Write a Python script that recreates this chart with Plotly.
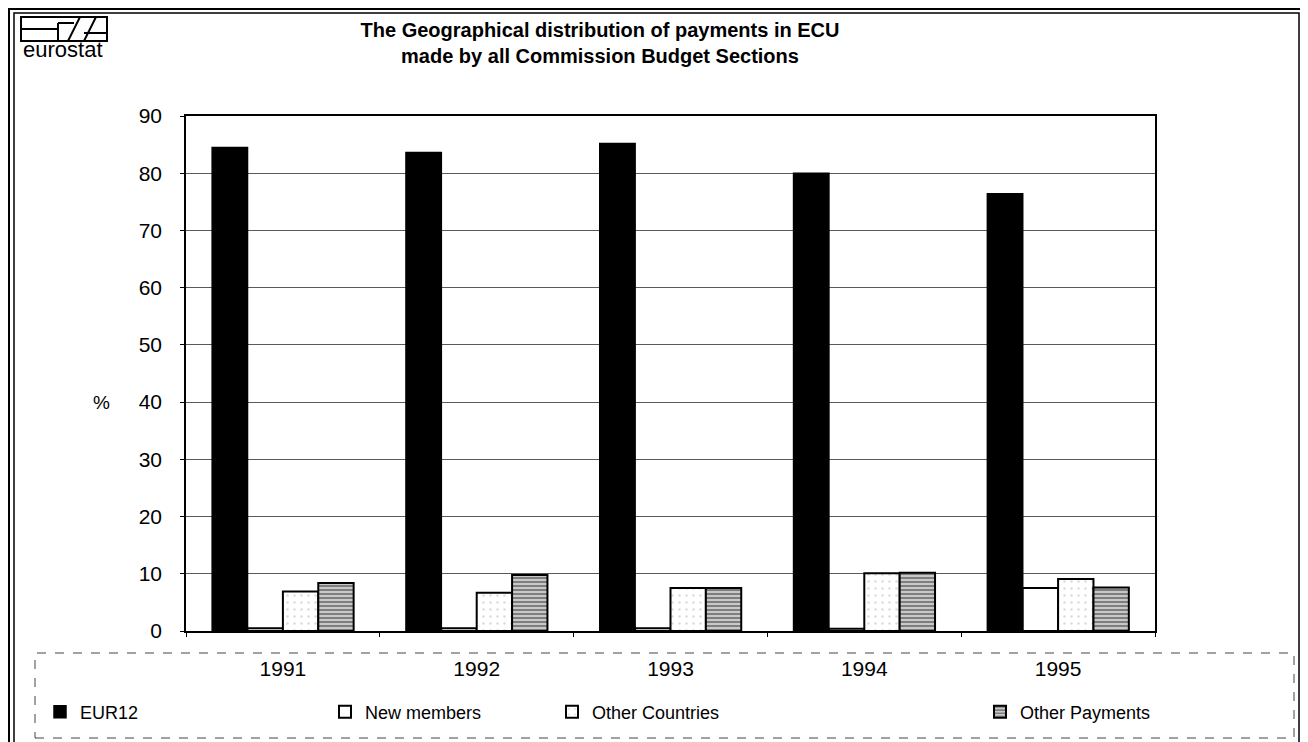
import plotly.graph_objects as go

years = ["1991", "1992", "1993", "1994", "1995"]
eur12 = [84.5, 83.6, 85.2, 80.0, 76.4]
new_members = [0.5, 0.5, 0.5, 0.4, 7.5]
other_countries = [6.9, 6.7, 7.5, 10.1, 9.1]
other_payments = [8.4, 9.8, 7.5, 10.2, 7.6]

# the page puts the plot 8px in from the window corner
OFF = 8
W, H = 1308 - OFF, 742 - OFF
L, R, T, B = 186 - OFF, 1155 - OFF, 116 - OFF, 631 - OFF
FONT = "Liberation Sans, Arial, sans-serif"


def px(x):
    # screen x -> paper fraction
    return (x - OFF - L) / (R - L)


def py(y):
    # screen y -> paper fraction
    return (B - (y - OFF)) / (B - T)


fig = go.Figure()
fig.add_trace(go.Bar(
    x=years, y=eur12, name="EUR12", legend="legend",
    marker=dict(color="black", line=dict(color="black", width=1.5)),
))
fig.add_trace(go.Bar(
    x=years, y=new_members, name="New members", legend="legend2",
    marker=dict(color="white", line=dict(color="black", width=2)),
))
fig.add_trace(go.Bar(
    x=years, y=other_countries, name="Other Countries", legend="legend3",
    marker=dict(
        color="white", line=dict(color="black", width=2),
        pattern=dict(shape=".", fgcolor="#b5b5b5", bgcolor="white", size=7, solidity=0.1),
    ),
))
fig.add_trace(go.Bar(
    x=years, y=other_payments, name="Other Payments", legend="legend4",
    marker=dict(
        color="#b0b0b0", line=dict(color="black", width=2),
        pattern=dict(shape="-", fgcolor="#222222", bgcolor="#c8c8c8", size=4, solidity=0.45),
    ),
))

legend_style = dict(
    orientation="h", xref="container", yref="container",
    y=1 - (712 - OFF) / H, yanchor="middle", xanchor="left",
    font=dict(family=FONT, size=18, color="black"),
    bgcolor="rgba(0,0,0,0)", itemwidth=30,
)


def line(x0, y0, x1, y1, w=2):
    return dict(type="line", xref="paper", yref="paper",
                x0=px(x0), x1=px(x1), y0=py(y0), y1=py(y1),
                line=dict(color="black", width=w))


shapes = [
    # outer double frame
    dict(type="rect", xref="paper", yref="paper",
         x0=px(9), x1=px(1304), y0=py(745), y1=py(9),
         line=dict(color="black", width=2)),
    dict(type="rect", xref="paper", yref="paper",
         x0=px(14), x1=px(1299), y0=py(745), y1=py(13),
         line=dict(color="black", width=1.5)),
    # legend box
    dict(type="rect", xref="paper", yref="paper",
         x0=px(35), x1=px(1294), y0=py(738), y1=py(653),
         line=dict(color="#444444", width=1, dash="dash")),
    # logo
    dict(type="rect", xref="paper", yref="paper",
         x0=px(21), x1=px(107), y0=py(41), y1=py(17),
         line=dict(color="black", width=2)),
    line(21, 29, 58, 29),
    line(58, 23, 58, 41),
    line(58, 23, 74, 23),
    line(68, 41, 80, 17),
    line(84, 41, 96, 17),
    line(84, 33, 107, 33),
]

annotations = [
    dict(text="eurostat", xref="paper", yref="paper", x=px(63), y=py(50),
         xanchor="center", yanchor="middle", showarrow=False,
         font=dict(family=FONT, size=22, color="black")),
    dict(text="%", xref="paper", yref="paper", x=px(101), y=py(402),
         xanchor="center", yanchor="middle", showarrow=False,
         font=dict(family=FONT, size=19, color="black")),
]

fig.update_layout(
    width=W, height=H,
    margin=dict(l=L, r=W - R, t=T, b=H - B),
    paper_bgcolor="white", plot_bgcolor="white",
    title=dict(
        text="<b>The Geographical distribution of payments in ECU<br>made by all Commission Budget Sections</b>",
        xref="container", yref="container", x=(600 - OFF) / W, y=1 - (37 - OFF) / H,
        xanchor="center", yanchor="middle",
        font=dict(family=FONT, size=20, color="black"),
    ),
    barmode="group", bargap=0.27, bargroupgap=0,
    font=dict(family=FONT, size=17, color="black"),
    showlegend=True,
    legend=dict(legend_style, x=(40 - OFF) / W),
    legend2=dict(legend_style, x=(325 - OFF) / W),
    legend3=dict(legend_style, x=(552 - OFF) / W),
    legend4=dict(legend_style, x=(980 - OFF) / W),
    shapes=shapes,
    annotations=annotations,
)
fig.update_xaxes(
    showline=True, linecolor="black", linewidth=1.5, mirror=True,
    ticks="outside", tickson="boundaries", ticklen=4, tickcolor="black",
    ticklabelstandoff=18, tickfont=dict(family=FONT, size=21, color="black"),
    showgrid=False,
)
fig.update_yaxes(
    range=[0, 90], dtick=10,
    showline=True, linecolor="black", linewidth=1.5, mirror=True,
    ticks="outside", ticklen=4, tickcolor="black",
    ticklabelstandoff=14, tickfont=dict(family=FONT, size=21, color="black"),
    showgrid=True, gridcolor="#5a5a5a", gridwidth=1,
    zeroline=False,
)

fig.write_html("out.html")
